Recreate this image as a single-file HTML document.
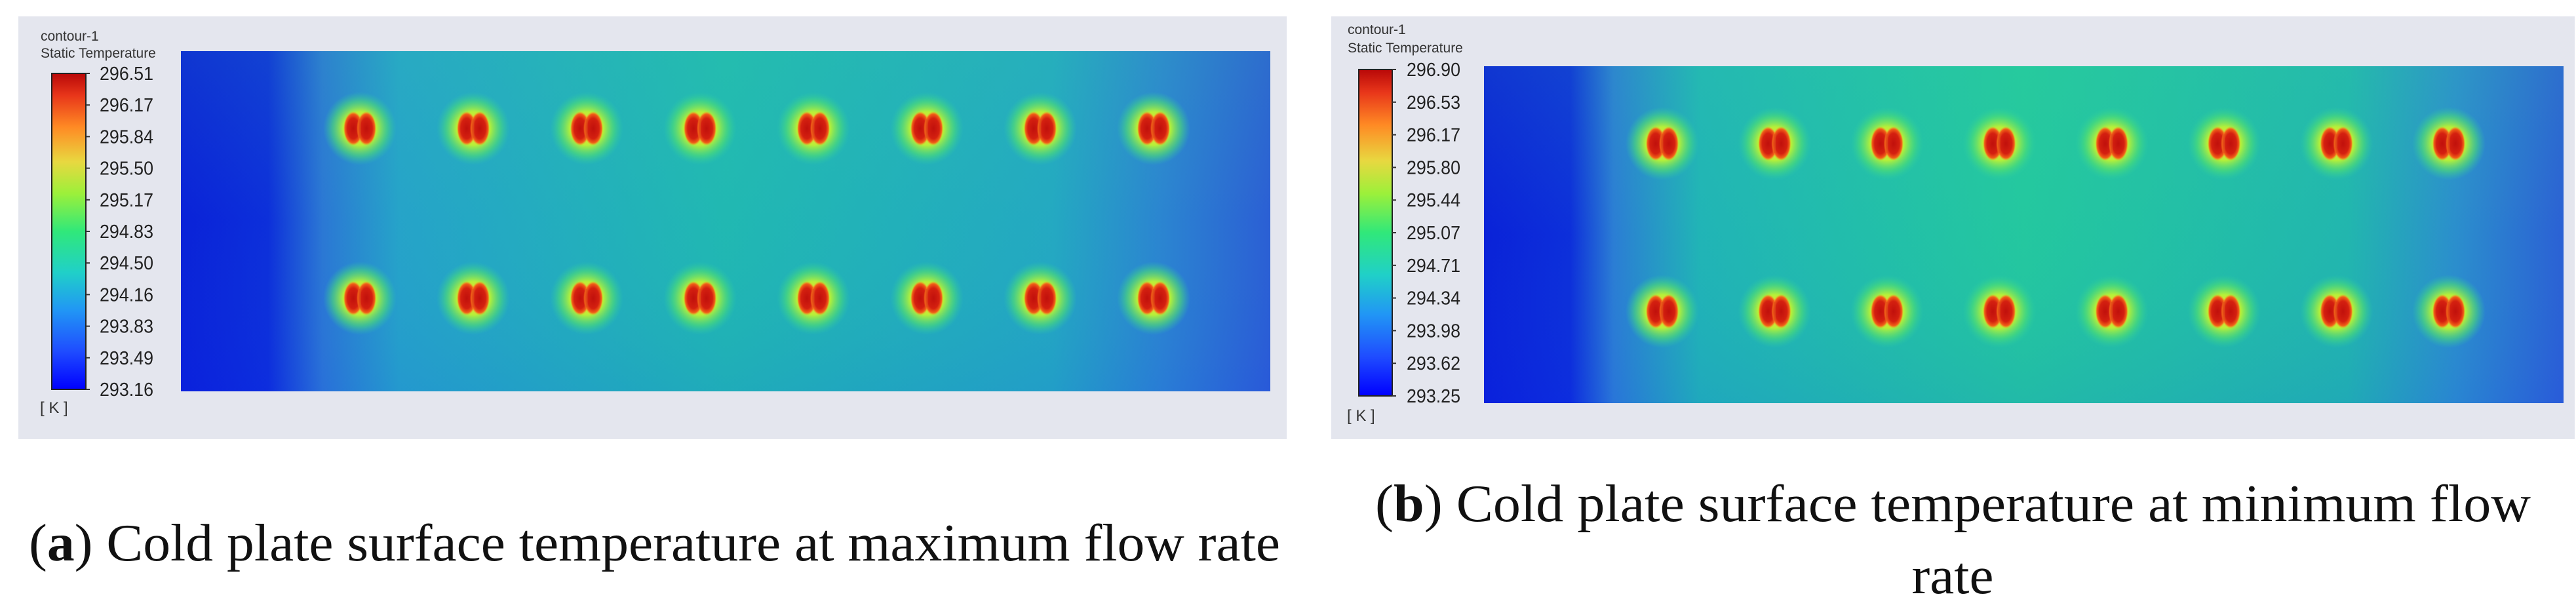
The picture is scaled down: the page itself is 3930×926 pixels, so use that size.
<!DOCTYPE html>
<html><head><meta charset="utf-8">
<style>
html,body{margin:0;padding:0;background:#fff;}
svg{display:block;}
</style></head>
<body>
<svg id="fig" width="3930" height="926" viewBox="0 0 3930 926" xmlns="http://www.w3.org/2000/svg">
<defs>
<linearGradient id="cbar" x1="0" y1="1" x2="0" y2="0">
<stop offset="0" stop-color="#0000ff"/><stop offset="0.12" stop-color="#1f4cff"/>
<stop offset="0.25" stop-color="#2196f5"/><stop offset="0.37" stop-color="#20d0c8"/>
<stop offset="0.5" stop-color="#30e87a"/><stop offset="0.62" stop-color="#9cf03a"/>
<stop offset="0.72" stop-color="#e8d840"/><stop offset="0.83" stop-color="#ff8a24"/>
<stop offset="0.93" stop-color="#e8361a"/><stop offset="1" stop-color="#b80808"/>
</linearGradient>
<linearGradient id="fieldA" x1="0" y1="0" x2="1" y2="0">
<stop offset="0" stop-color="#0718dc"/><stop offset="0.08" stop-color="#0a26de"/>
<stop offset="0.13" stop-color="#2a72d8"/><stop offset="0.2" stop-color="#24a0cc"/>
<stop offset="0.5" stop-color="#1fb6b4"/><stop offset="0.8" stop-color="#22a6c4"/>
<stop offset="0.9" stop-color="#2a80d4"/><stop offset="1" stop-color="#2a58d8"/>
</linearGradient>
<linearGradient id="fieldB" x1="0" y1="0" x2="1" y2="0">
<stop offset="0" stop-color="#0718dc"/><stop offset="0.08" stop-color="#0a26de"/>
<stop offset="0.12" stop-color="#2a78d8"/><stop offset="0.2" stop-color="#1fb2b8"/>
<stop offset="0.5" stop-color="#22c6a0"/><stop offset="0.8" stop-color="#20b4b0"/>
<stop offset="0.9" stop-color="#2a8ad0"/><stop offset="1" stop-color="#2a5ad8"/>
</linearGradient>
<linearGradient id="vshade" x1="0" y1="0" x2="0" y2="1">
<stop offset="0" stop-color="#40e090" stop-opacity="0.15"/><stop offset="0.5" stop-color="#40e090" stop-opacity="0.05"/><stop offset="1" stop-color="#2060e0" stop-opacity="0.12"/>
</linearGradient>
<radialGradient id="halo">
<stop offset="0" stop-color="#ffd030"/><stop offset="0.45" stop-color="#b8f038"/>
<stop offset="0.75" stop-color="#50e070" stop-opacity="0.6"/><stop offset="1" stop-color="#30d0a0" stop-opacity="0"/>
</radialGradient>
<radialGradient id="core">
<stop offset="0" stop-color="#c0100c"/><stop offset="0.6" stop-color="#d42010"/>
<stop offset="0.85" stop-color="#f06018"/><stop offset="1" stop-color="#ff9020" stop-opacity="0"/>
</radialGradient>
</defs>
<g id="root"></g>
</svg>
<script>
const ticksA = ["296.51","296.17","295.84","295.50","295.17","294.83","294.50","294.16","293.83","293.49","293.16"];
const ticksB = ["296.90","296.53","296.17","295.80","295.44","295.07","294.71","294.34","293.98","293.62","293.25"];
const columnsA = [1,2,3,4,5,6,7,8];
const columnsB = [1,2,3,4,5,6,7,8];
const rowsA = [1,2];
const rowsB = [1,2];
const NS = "http://www.w3.org/2000/svg";
const root = document.getElementById('root');
function mk(tag, attrs, parent){const e=document.createElementNS(NS,tag);for(const k in attrs)e.setAttribute(k,attrs[k]);(parent||root).appendChild(e);return e;}

function panel(p){
  const g = mk('g',{});
  
  
  const bg = mk('rect',{x:p.bx,y:25,width:p.bw,height:645,fill:'#e4e6ee'},g);
  
  
  const t1 = mk('text',{x:p.tx,y:p.t1y,'font-family':'Liberation Sans, sans-serif','font-size':21,fill:'#333'},g);
  t1.textContent='contour-1';
  
  
  const t2 = mk('text',{x:p.tx,y:p.t2y,'font-family':'Liberation Sans, sans-serif','font-size':21,fill:'#333'},g);
  t2.textContent='Static Temperature';
  
  
  const cb = mk('rect',{x:p.cx,y:p.cy0,width:p.cw,height:p.cy1-p.cy0,fill:'url(#cbar)',stroke:'#222','stroke-width':2},g);
  
  
  const n = p.ticks.length;
  p.ticks.forEach((lab,i)=>{
    const y = p.cy0 + (p.cy1-p.cy0)*i/(n-1);
    const tk = mk('line',{x1:p.cx+p.cw,x2:p.cx+p.cw+6,y1:y,y2:y,stroke:'#333','stroke-width':2},g);
    
    
    const tl = mk('text',{x:p.lx,y:y+10,'font-family':'Liberation Sans, sans-serif','font-size':29,fill:'#222',textLength:82,lengthAdjust:'spacingAndGlyphs'},g);
    tl.textContent = lab;
    
    
  });
  const k = mk('text',{x:p.cx-18,y:p.ky,'font-family':'Liberation Sans, sans-serif','font-size':24,fill:'#333'},g);
  k.textContent='[ K ]';
  
  
  const f = mk('rect',{x:p.px0,y:p.py0,width:p.px1-p.px0,height:p.py1-p.py0,fill:p.fill},g);
  
  
  mk('rect',{x:p.px0,y:p.py0,width:p.px1-p.px0,height:p.py1-p.py0,fill:'url(#vshade)'},g);
  const xs = c => p.sx0 + (c-1)*(p.sx1-p.sx0)/(p.cols.length-1);
  const ys = r => p.sy0 + (r-1)*(p.sy1-p.sy0);
  p.rows.forEach(r=>{
    p.cols.forEach(c=>{
      const cx = xs(c), cy = ys(r);
      const s = mk('g',{},g);
      
      
      mk('ellipse',{cx:cx,cy:cy,rx:56,ry:56,fill:'url(#halo)'},s);
      mk('ellipse',{cx:cx-10,cy:cy,rx:15,ry:26,fill:'url(#core)'},s);
      mk('ellipse',{cx:cx+10,cy:cy,rx:15,ry:26,fill:'url(#core)'},s);
      mk('line',{x1:cx,x2:cx,y1:cy-14,y2:cy+14,stroke:'#e05018','stroke-width':3,opacity:0.6},s);
    });
  });
}

panel({name:'panel-a',bx:28,bw:1935,tx:62,t1y:62,t2y:88,cx:79,cw:52,cy0:112,cy1:594,lx:152,ky:630,
  px0:276,px1:1938,py0:78,py1:597,fill:'url(#fieldA)',ticks:ticksA,cols:columnsA,rows:rowsA,
  sx0:549,sx1:1760,sy0:196,sy1:455});
panel({name:'panel-b',bx:2031,bw:1897,tx:2056,t1y:52,t2y:80,cx:2073,cw:51,cy0:106,cy1:604,lx:2146,ky:642,
  px0:2264,px1:3911,py0:101,py1:615,fill:'url(#fieldB)',ticks:ticksB,cols:columnsB,rows:rowsB,
  sx0:2536,sx1:3736,sy0:219,sy1:475});

const ca = mk('text',{x:44,y:855,'font-family':'Liberation Serif, serif','font-size':80,fill:'#111',textLength:1909,lengthAdjust:'spacingAndGlyphs'});
ca.innerHTML='(<tspan font-weight="bold">a</tspan>) Cold plate surface temperature at maximum flow rate';


const cb1 = mk('text',{x:2098,y:795,'font-family':'Liberation Serif, serif','font-size':80,fill:'#111',textLength:1763,lengthAdjust:'spacingAndGlyphs'});
cb1.innerHTML='(<tspan font-weight="bold">b</tspan>) Cold plate surface temperature at minimum flow';


const cb2 = mk('text',{x:2979,y:905,'font-family':'Liberation Serif, serif','font-size':80,fill:'#111','text-anchor':'middle',textLength:125,lengthAdjust:'spacingAndGlyphs'});
cb2.textContent='rate';


</script>
</body></html>
